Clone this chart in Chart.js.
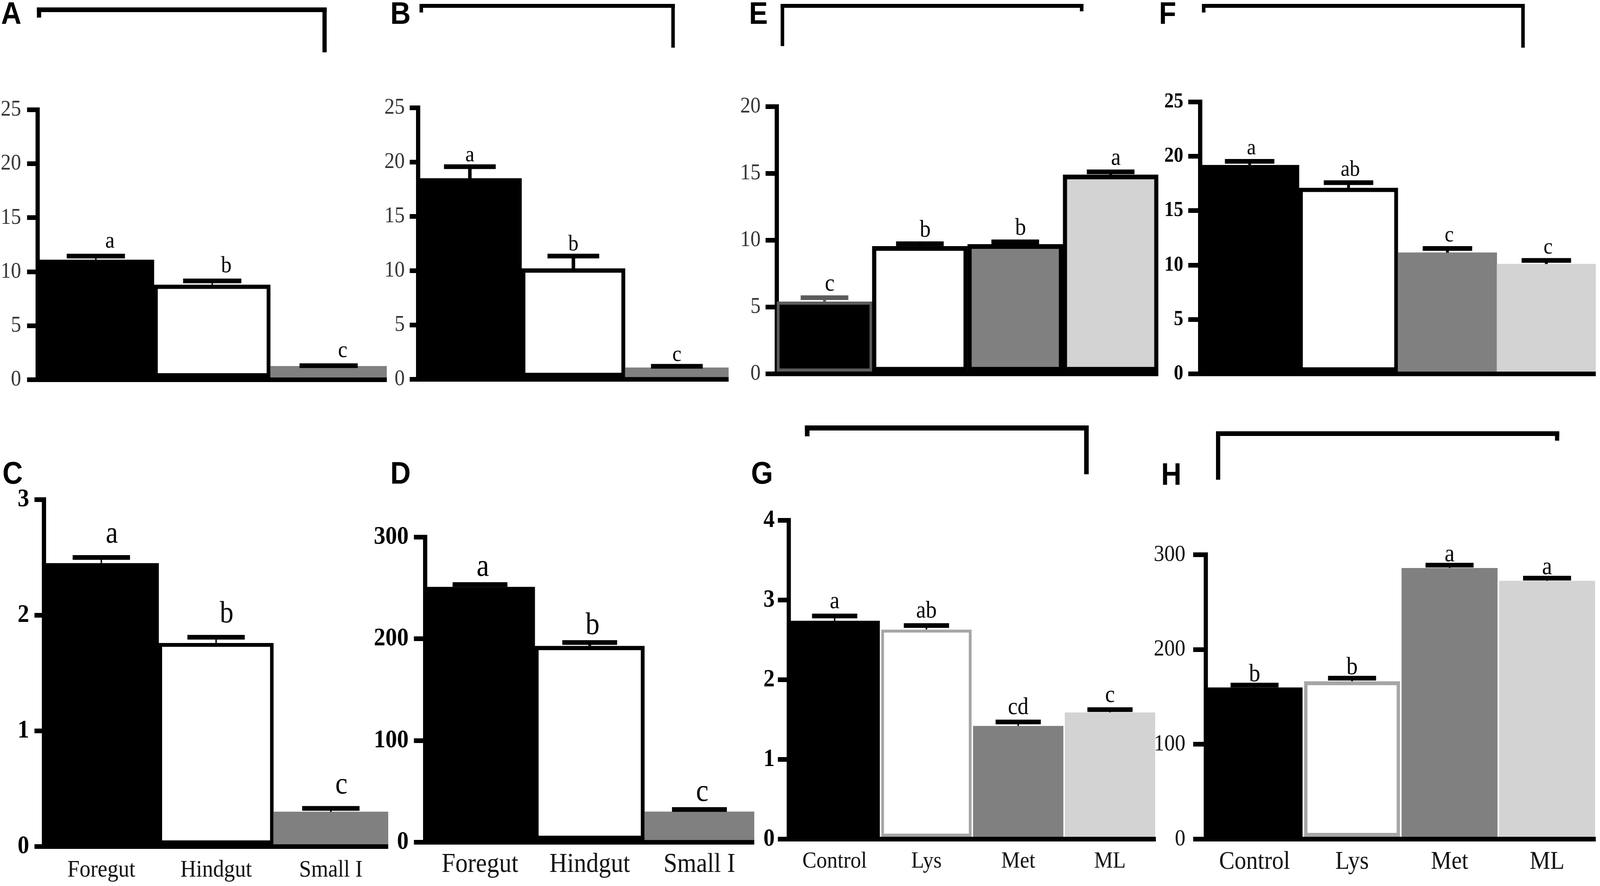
<!DOCTYPE html>
<html>
<head>
<meta charset="utf-8">
<title>Gut segments and diets</title>
<script src="https://cdn.jsdelivr.net/npm/chart.js@4.4.1/dist/chart.umd.min.js"></script>
<style>
  html, body { margin: 0; padding: 0; background: #fff; overflow: hidden; }
  #page { position: absolute; left: 0; top: 0; width: 4550px; height: 2268px; overflow: hidden;
          background: #fff; transform-origin: 0 0; }
  .panel { position: absolute; }
  .tag { position: absolute; font: bold 80px "Liberation Sans", Arial, sans-serif; line-height: 80px; color: #000; }
  .rule { position: absolute; background: #000; }
</style>
</head>
<body>
<div id="page"></div>
<script>
// categories
const gutSites = ['Foregut', 'Hindgut', 'Small I'];
const diets = ['Control', 'Lys', 'Met', 'ML'];

// tick labels
const ticks25 = [0, 5, 10, 15, 20, 25];
const ticks20 = [0, 5, 10, 15, 20];
const ticks3 = [0, 1, 2, 3];
const ticks4 = [0, 1, 2, 3, 4];
const ticks300 = [0, 100, 200, 300];

// series values, SEM and letters
const valuesA = [11.1, 8.8, 1.25];
const semA = [0.35, 0.35, 0.05];
const lettersA = ['a', 'b', 'c'];

const valuesB = [18.5, 10.2, 1.08];
const semB = [1.08, 1.15, 0.12];
const lettersB = ['a', 'b', 'c'];

const valuesC = [2.45, 1.76, 0.3];
const semC = [0.05, 0.05, 0.03];
const lettersC = ['a', 'b', 'c'];

const valuesD = [251, 193, 30];
const semD = [2.4, 3.4, 2.2];
const lettersD = ['a', 'b', 'c'];

const valuesE = [5.4, 9.55, 9.7, 14.9];
const semE = [0.3, 0.19, 0.18, 0.22];
const lettersE = ['c', 'b', 'b', 'a'];

const valuesF = [19.2, 17.1, 11.15, 10.1];
const semF = [0.34, 0.48, 0.38, 0.33];
const lettersF = ['a', 'ab', 'c', 'c'];

const valuesG = [2.74, 2.63, 1.42, 1.59];
const semG = [0.06, 0.05, 0.05, 0.035];
const lettersG = ['a', 'ab', 'cd', 'c'];

const valuesH = [160, 166.5, 286, 272.5];
const semH = [2.5, 3.3, 3, 2.8];
const lettersH = ['b', 'b', 'a', 'a'];

const SERIF = '"Liberation Serif", "Times New Roman", Times, serif';
const FILL3 = ['#000000', '#ffffff', '#808080'];
const FILL4 = ['#000000', '#ffffff', '#808080', '#d3d3d3'];

// error bars and significance letters, placed with the chart's own scales
const errorBars = {
    id: 'errorBars',
    afterDatasetsDraw(chart, args, opts) {
        const ctx = chart.ctx;
        const yScale = chart.scales.y;
        const meta = chart.getDatasetMeta(0);
        meta.data.forEach((bar, i) => {
            const top = yScale.getPixelForValue(opts.values[i] + opts.sem[i]);
            const half = bar.width * 0.25;
            ctx.save();
            ctx.fillStyle = opts.colors ? opts.colors[i] : '#000';
            ctx.fillRect(bar.x - opts.stem / 2, top, opts.stem, bar.y - top);
            ctx.fillRect(bar.x - half, top - opts.cap / 2, half * 2, opts.cap);
            ctx.fillStyle = '#000';
            ctx.font = `${opts.letterSize}px ${SERIF}`;
            ctx.textAlign = 'center';
            ctx.textBaseline = 'alphabetic';
            ctx.fillText(opts.letters[i], bar.x + opts.dx, top - opts.cap / 2 - opts.gap);
            ctx.restore();
        });
    }
};

const panels = [
    { tag: 'A', tagX: 3, tagY: 4, axisX: 107, top: 281, base: 972, right: 1100,
      cats: gutSites, values: valuesA, sem: semA, letters: lettersA, ticks: ticks25,
      fill: FILL3, border: ['#000', '#000', '#808080'], bw: [0, 11, 0],
      tickFont: { size: 58, weight: 'normal' }, tickColor: '#333', tickPad: 17, tickLen: 30,
      showX: false, letterSize: 60, gap: 16, dx: 40, stem: 4,
      bracket: [105, 929, 19, 12, 45, 134] },
    { tag: 'B', tagX: 1110, tagY: 4, axisX: 1189, top: 276, base: 971, right: 2072,
      cats: gutSites, values: valuesB, sem: semB, letters: lettersB, ticks: ticks25,
      fill: FILL3, border: ['#000', '#000', '#808080'], bw: [0, 11, 0],
      tickFont: { size: 58, weight: 'normal' }, tickColor: '#333', tickPad: 14, tickLen: 24,
      showX: false, letterSize: 58, gap: 8, dx: 0, stem: 10,
      bracket: [1193, 1919, 10, 10, 32, 122] },
    { tag: 'E', tagX: 2130, tagY: 4, axisX: 2209, top: 273, base: 957, right: 3294,
      cats: diets, values: valuesE, sem: semE, letters: lettersE, ticks: ticks20,
      fill: FILL4, border: ['#5c5c5c', '#000', '#000', '#000'], bw: [8, 12, 12, 12],
      errColors: ['#5c5c5c', '#000', '#000', '#000'],
      tickFont: { size: 58, weight: 'normal' }, tickColor: '#333', tickPad: 14, tickLen: 32,
      showX: false, letterSize: 62, gap: 12, dx: 15, stem: 8,
      bracket: [2220, 3081, 10, 10, 118, 29] },
    { tag: 'F', tagX: 3296, tagY: 4, axisX: 3413, top: 261, base: 957, right: 4538,
      cats: diets, values: valuesF, sem: semF, letters: lettersF, ticks: ticks25,
      fill: FILL4, border: ['#000', '#000', '#808080', '#d3d3d3'], bw: [0, 11, 0, 0],
      tickFont: { size: 54, weight: 'bold' }, tickColor: '#000', tickPad: 14, tickLen: 34,
      showX: false, letterSize: 58, gap: 12, dx: 5, stem: 8,
      bracket: [3418, 4336, 10, 10, 32, 122] },
    { tag: 'C', tagX: 7, tagY: 1181, axisX: 125, top: 1279, base: 2167, right: 1104,
      cats: gutSites, values: valuesC, sem: semC, letters: lettersC, ticks: ticks3,
      fill: FILL3, border: ['#000', '#000', '#808080'], bw: [0, 10, 0],
      tickFont: { size: 66, weight: 'bold' }, tickColor: '#000', tickPad: 15, tickLen: 27,
      showX: true, xFont: 62, xPad: 16, letterSize: 78, gap: 32, dx: 30, stem: 4 },
    { tag: 'D', tagX: 1110, tagY: 1181, axisX: 1209, top: 1375, base: 2156, right: 2145,
      cats: gutSites, values: valuesD, sem: semD, letters: lettersD, ticks: ticks300,
      fill: FILL3, border: ['#000', '#000', '#808080'], bw: [0, 11, 0],
      tickFont: { size: 66, weight: 'bold' }, tickColor: '#000', tickPad: 15, tickLen: 32,
      showX: true, xFont: 70, xPad: 8, letterSize: 80, gap: 16, dx: 8, stem: 8 },
    { tag: 'G', tagX: 2136, tagY: 1181, axisX: 2243, top: 1332, base: 2148, right: 3287,
      cats: diets, values: valuesG, sem: semG, letters: lettersG, ticks: ticks4,
      fill: FILL4, border: ['#000', '#a6a6a6', '#808080', '#d3d3d3'], bw: [0, 8, 0, 0],
      tickFont: { size: 64, weight: 'bold' }, tickColor: '#000', tickPad: 9, tickLen: 31,
      showX: true, xFont: 60, xPad: 13, letterSize: 62, gap: 14, dx: 0, stem: 4,
      barPct: 0.985,
      bracket: [2289, 3096, 1089, 13, 1117, 1214] },
    { tag: 'H', tagX: 3302, tagY: 1184, axisX: 3429, top: 1420, base: 2148, right: 4538,
      cats: diets, values: valuesH, sem: semH, letters: lettersH, ticks: ticks300,
      fill: FILL4, border: ['#000', '#a6a6a6', '#808080', '#d3d3d3'], bw: [0, 10, 0, 0],
      tickFont: { size: 60, weight: 'normal' }, tickColor: '#111', tickPad: 22, tickLen: 36,
      showX: true, xFont: 66, xPad: 11, letterSize: 64, gap: 4, dx: 0, stem: 4,
      barPct: 0.985,
      bracket: [3458, 4434, 1104, 12, 1228, 1128] }
];

const page = document.getElementById('page');
const AXIS_W = 200;   // fixed width reserved for the y axis
const PAD_TOP = 90;   // room above the plot for the top tick label

// the figure is laid out in 4550 x 2268 units; fit it to the window
function fitPage() {
    const kx = window.innerWidth / 4550;
    const ky = window.innerHeight / 2268;
    page.style.transform = `scale(${kx}, ${ky})`;
}
fitPage();
window.addEventListener('resize', fitPage);

function addRule(x, y, w, h) {
    const div = document.createElement('div');
    div.className = 'rule';
    Object.assign(div.style, { left: `${x}px`, top: `${y}px`, width: `${w}px`, height: `${h}px` });
    page.appendChild(div);
}

function addBracket([x1, x2, y, t, dropL, dropR]) {
    addRule(x1, y, x2 - x1, t);
    addRule(x1, y, t, dropL - y);
    addRule(x2 - t, y, t, dropR - y);
}

function addPanel(p) {
    const tag = document.createElement('div');
    tag.className = 'tag';
    tag.textContent = p.tag;
    tag.style.left = `${p.tagX}px`;
    tag.style.top = `${p.tagY - 10}px`;
    page.appendChild(tag);

    if (p.bracket) addBracket(p.bracket);

    const xAxisH = p.showX ? 140 : 60;
    const left = p.axisX - AXIS_W;
    const top = p.top - PAD_TOP;
    const box = document.createElement('div');
    box.className = 'panel';
    Object.assign(box.style, {
        left: `${left}px`,
        top: `${top}px`,
        width: `${p.right - left}px`,
        height: `${p.base - p.top + PAD_TOP + xAxisH}px`
    });
    const canvas = document.createElement('canvas');
    box.appendChild(canvas);
    page.appendChild(box);

    new Chart(canvas, {
        type: 'bar',
        data: {
            labels: p.cats,
            datasets: [{
                data: p.values,
                backgroundColor: p.fill,
                borderColor: p.border,
                borderWidth: p.bw,
                borderSkipped: false,
                categoryPercentage: 1,
                barPercentage: p.barPct || 1
            }]
        },
        options: {
            responsive: true,
            maintainAspectRatio: false,
            animation: false,
            layout: { padding: { top: PAD_TOP, left: 0, right: 0, bottom: 0 } },
            plugins: {
                legend: { display: false },
                tooltip: { enabled: false },
                errorBars: {
                    values: p.values, sem: p.sem, letters: p.letters,
                    colors: p.errColors, stem: p.stem, cap: 12,
                    letterSize: p.letterSize, gap: p.gap, dx: p.dx
                }
            },
            scales: {
                x: {
                    z: 1,
                    offset: true,
                    grid: { display: false },
                    border: { display: true, color: '#000', width: 12 },
                    ticks: {
                        display: p.showX,
                        color: '#111',
                        padding: p.xPad || 0,
                        maxRotation: 0,
                        autoSkip: false,
                        font: { family: SERIF, size: p.xFont || 60 }
                    },
                    afterFit: s => { s.height = xAxisH; }
                },
                y: {
                    z: 1,
                    min: 0,
                    max: p.ticks[p.ticks.length - 1],
                    afterBuildTicks: s => { s.ticks = p.ticks.map(v => ({ value: v })); },
                    grid: {
                        drawOnChartArea: false,
                        drawTicks: true,
                        tickLength: p.tickLen,
                        lineWidth: 12,
                        color: '#000'
                    },
                    border: { display: true, color: '#000', width: 12 },
                    ticks: {
                        color: p.tickColor,
                        padding: p.tickPad,
                        font: { family: SERIF, size: p.tickFont.size, weight: p.tickFont.weight }
                    },
                    afterFit: s => { s.width = AXIS_W; }
                }
            }
        },
        plugins: [errorBars]
    });
}

panels.forEach(addPanel);
</script>
</body>
</html>
